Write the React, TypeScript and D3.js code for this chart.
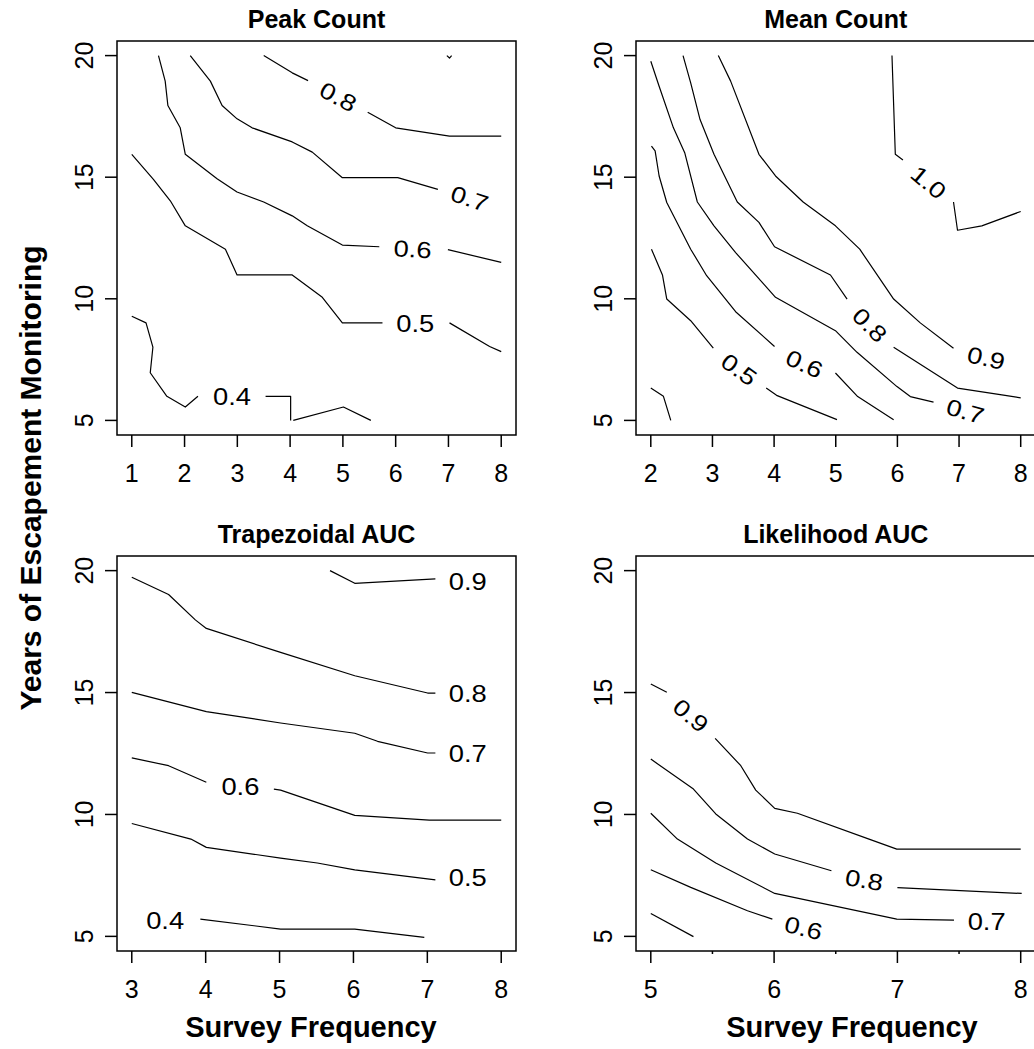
import React from "react";
import * as d3 from "d3";

type Pt = [number, number];
interface ContourLabel { x: number; y: number; angle: number }
interface Contour { level: string; segments: Pt[][]; label?: ContourLabel }

// ---------- data ----------
const yTicks = [5, 10, 15, 20];
const yDomain: [number, number] = [5, 20];

const peakCountXTicks = [1, 2, 3, 4, 5, 6, 7, 8];
const meanCountXTicks = [2, 3, 4, 5, 6, 7, 8];
const trapezoidalXTicks = [3, 4, 5, 6, 7, 8];
const likelihoodXTicks = [5, 6, 7, 8];
const likelihoodXMinorTicks = [5.5, 6.5, 7.5];

const panelTitles = ["Peak Count", "Mean Count", "Trapezoidal AUC", "Likelihood AUC"];
const xAxisTitle = "Survey Frequency";
const yAxisTitle = "Years of Escapement Monitoring";

const peakCountContours: Contour[] = [
  { level: "0.4", segments: [
    [[1.0, 9.28], [1.27, 9.01], [1.40, 8.01], [1.35, 6.96], [1.665, 5.99], [2.014, 5.55], [2.254, 5.99]],
    [[3.535, 5.99], [4.01, 5.99], [4.01, 5.0]],
    [[4.06, 5.0], [5.01, 5.55], [5.53, 5.0]],
  ], label: { x: 2.90, y: 5.96, angle: 0 } },
  { level: "0.5", segments: [
    [[1.0, 15.94], [1.41, 14.91], [1.73, 14.03], [2.014, 13.0], [2.774, 12.04], [2.995, 10.98], [4.04, 10.98], [4.61, 10.06], [4.99, 9.01], [5.75, 9.01]],
    [[7.02, 9.01], [7.78, 8.04], [8.0, 7.83]],
  ], label: { x: 6.37, y: 8.97, angle: 0 } },
  { level: "0.6", segments: [
    [[1.506, 20.0], [1.633, 18.95], [1.684, 17.95], [1.918, 17.03], [2.014, 15.94], [2.616, 14.94], [2.994, 14.39], [3.50, 13.98], [4.04, 13.41], [4.325, 13.0], [4.99, 12.21], [5.69, 12.14]],
    [[6.99, 12.02], [8.0, 11.50]],
  ], label: { x: 6.32, y: 12.04, angle: 3 } },
  { level: "0.7", segments: [
    [[2.108, 20.0], [2.489, 18.95], [2.711, 17.95], [2.995, 17.40], [3.28, 17.03], [4.04, 16.45], [4.42, 16.03], [4.99, 14.98], [6.04, 14.98], [6.80, 14.50]],
  ], label: { x: 7.40, y: 14.12, angle: 18 } },
  { level: "0.8", segments: [
    [[3.50, 20.0], [4.04, 19.29], [4.34, 18.97]],
    [[5.47, 17.67], [6.00, 17.03], [7.02, 16.69], [8.0, 16.69]],
  ], label: { x: 4.909, y: 18.30, angle: 28 } },
  { level: "0.9", segments: [
    [[6.97, 20.0], [7.02, 19.9], [7.06, 20.0]],
  ] },
];

const meanCountContours: Contour[] = [
  { level: "0.4", segments: [
    [[2.0, 6.33], [2.205, 5.99], [2.324, 5.0]],
  ] },
  { level: "0.5", segments: [
    [[2.011, 12.04], [2.189, 10.98], [2.259, 9.99], [2.647, 9.10], [3.014, 7.97]],
    [[3.872, 6.33], [4.04, 6.03], [5.02, 5.03]],
  ], label: { x: 3.43, y: 7.09, angle: 36 } },
  { level: "0.6", segments: [
    [[2.011, 16.28], [2.07, 16.08], [2.135, 15.05], [2.259, 13.96], [2.647, 12.04], [2.906, 10.95], [3.376, 9.47], [4.007, 8.04]],
    [[4.995, 6.95], [5.356, 5.98], [5.939, 5.03]],
  ], label: { x: 4.49, y: 7.32, angle: 25 } },
  { level: "0.7", segments: [
    [[2.0, 19.77], [2.135, 18.74], [2.367, 17.03], [2.55, 16.01], [2.755, 13.98], [3.025, 13.0], [3.376, 11.90], [4.023, 10.06], [4.995, 8.69], [5.345, 7.80], [5.993, 6.39], [6.209, 5.98], [6.586, 5.75]],
  ], label: { x: 7.10, y: 5.37, angle: 16 } },
  { level: "0.8", segments: [
    [[2.523, 20.0], [2.647, 18.88], [2.799, 17.37], [3.025, 15.94], [3.403, 13.98], [3.754, 13.14], [4.007, 12.14], [4.914, 10.98], [5.184, 9.99]],
    [[5.939, 8.01], [6.975, 6.33], [7.747, 6.03], [8.0, 5.93]],
  ], label: { x: 5.55, y: 8.92, angle: 45 } },
  { level: "0.9", segments: [
    [[3.095, 20.0], [3.295, 18.95], [3.754, 15.94], [4.023, 15.05], [4.471, 13.98], [4.995, 13.0], [5.389, 12.04], [5.939, 9.99], [6.371, 9.01], [6.91, 7.97]],
  ], label: { x: 7.44, y: 7.56, angle: 13 } },
  { level: "1.0", segments: [
    [[5.912, 20.0], [5.966, 15.94], [6.09, 15.71]],
    [[6.91, 13.98], [6.975, 12.82], [7.369, 13.0], [8.0, 13.59]],
  ], label: { x: 6.505, y: 14.78, angle: 40 } },
];

const trapezoidalContours: Contour[] = [
  { level: "0.4", segments: [
    [[3.928, 5.71], [5.014, 5.30], [6.018, 5.30], [6.959, 4.96]],
  ], label: { x: 3.452, y: 5.64, angle: 0 } },
  { level: "0.5", segments: [
    [[3.0, 9.63], [3.80, 8.99], [4.009, 8.65], [5.014, 8.21], [5.511, 8.01], [6.018, 7.73], [7.109, 7.32]],
  ], label: { x: 7.547, y: 7.39, angle: 0 } },
  { level: "0.6", segments: [
    [[3.0, 12.32], [3.498, 12.0], [4.009, 11.32]],
    [[4.923, 11.04], [5.014, 11.0], [6.018, 9.96], [7.027, 9.77], [8.0, 9.77]],
  ], label: { x: 4.47, y: 11.11, angle: 0 } },
  { level: "0.7", segments: [
    [[3.0, 15.01], [4.009, 14.22], [5.014, 13.75], [6.018, 13.33], [6.326, 13.0], [7.004, 12.52], [7.109, 12.52]],
  ], label: { x: 7.547, y: 12.48, angle: 0 } },
  { level: "0.8", segments: [
    [[3.0, 19.73], [3.498, 19.02], [3.86, 17.98], [4.009, 17.63], [5.014, 16.65], [6.018, 15.69], [7.004, 14.98], [7.109, 14.98]],
  ], label: { x: 7.547, y: 14.94, angle: 0 } },
  { level: "0.9", segments: [
    [[5.683, 20.0], [6.018, 19.48], [7.109, 19.66]],
  ], label: { x: 7.547, y: 19.55, angle: 0 } },
];

const likelihoodContours: Contour[] = [
  { level: "0.5", segments: [
    [[5.0, 5.94], [5.346, 4.99]],
  ] },
  { level: "0.6", segments: [
    [[5.0, 7.73], [5.324, 7.01], [5.784, 6.05], [5.986, 5.71]],
  ], label: { x: 6.238, y: 5.34, angle: 14 } },
  { level: "0.7", segments: [
    [[5.0, 10.05], [5.216, 8.99], [5.527, 8.01], [6.005, 6.76], [6.995, 5.71], [7.459, 5.67]],
  ], label: { x: 7.724, y: 5.57, angle: 0 } },
  { level: "0.8", segments: [
    [[5.0, 12.27], [5.346, 11.04], [5.527, 10.02], [5.784, 8.99], [6.005, 8.38], [6.465, 7.69]],
    [[7.0, 7.0], [8.008, 6.76]],
  ], label: { x: 6.73, y: 7.31, angle: 10 } },
  { level: "0.9", segments: [
    [[5.0, 15.35], [5.13, 15.01]],
    [[5.522, 13.12], [5.73, 12.0], [5.851, 11.0], [6.005, 10.25], [6.189, 10.05], [6.77, 8.99], [6.995, 8.58], [8.0, 8.58]],
  ], label: { x: 5.324, y: 14.05, angle: 40 } },
];

// ---------- layout ----------
const W = 1034;
const H = 1049;
const FONT = "'Liberation Sans', Arial, Helvetica, sans-serif";

interface PanelSpec {
  title: string;
  xTicks: number[];
  xMinor: number[];
  contours: Contour[];
  left: number; right: number; top: number; bottom: number;
  showXTitle: boolean;
  xTitleX: number;
}

const colL = { left: 117, right: 516 };
const colR = { left: 636, right: 1035.5 };
const rowT = { top: 41, bottom: 435 };
const rowB = { top: 556, bottom: 951 };

const panels: PanelSpec[] = [
  { title: panelTitles[0], xTicks: peakCountXTicks, xMinor: [], contours: peakCountContours, ...colL, ...rowT, showXTitle: false, xTitleX: 311 },
  { title: panelTitles[1], xTicks: meanCountXTicks, xMinor: [], contours: meanCountContours, ...colR, ...rowT, showXTitle: false, xTitleX: 852 },
  { title: panelTitles[2], xTicks: trapezoidalXTicks, xMinor: [], contours: trapezoidalContours, ...colL, ...rowB, showXTitle: true, xTitleX: 311 },
  { title: panelTitles[3], xTicks: likelihoodXTicks, xMinor: likelihoodXMinorTicks, contours: likelihoodContours, ...colR, ...rowB, showXTitle: true, xTitleX: 852 },
];

function pad(ext: [number, number]): [number, number] {
  const r = ext[1] - ext[0];
  return [ext[0] - 0.04 * r, ext[1] + 0.04 * r];
}

function Panel({ p, idx }: { p: PanelSpec; idx: number }) {
  const xExt = d3.extent(p.xTicks) as [number, number];
  const x = d3.scaleLinear().domain(pad(xExt)).range([p.left, p.right]);
  const y = d3.scaleLinear().domain(pad(yDomain)).range([p.bottom, p.top]);
  const line = d3.line<Pt>().x((d) => x(d[0])).y((d) => y(d[1]));
  const clipId = `clip-${idx}`;
  const cx = (p.left + p.right) / 2;
  return (
    <g>
      <defs>
        <clipPath id={clipId}>
          <rect x={p.left} y={p.top} width={p.right - p.left} height={p.bottom - p.top} />
        </clipPath>
      </defs>
      <text x={cx} y={p.top - 13} textAnchor="middle" fontFamily={FONT} fontWeight="bold" fontSize={25}>
        {p.title}
      </text>
      <g clipPath={`url(#${clipId})`}>
        {p.contours.map((c, ci) =>
          c.segments.map((s, si) => (
            <path key={`${ci}-${si}`} d={line(s) || ""} fill="none" stroke="#000" strokeWidth={1.2} strokeLinejoin="round" />
          ))
        )}
        {p.contours.filter((c) => c.label).map((c, ci) => {
          const l = c.label as ContourLabel;
          return (
            <text
              key={`l${ci}`}
              transform={`translate(${x(l.x)},${y(l.y)}) rotate(${l.angle})`}
              textAnchor="middle"
              dominantBaseline="central"
              fontFamily={FONT}
              fontSize={23}
              textLength={38}
              lengthAdjust="spacingAndGlyphs"
              fill="#000"
            >
              {c.level}
            </text>
          );
        })}
      </g>
      <rect x={p.left} y={p.top} width={p.right - p.left} height={p.bottom - p.top} fill="none" stroke="#000" strokeWidth={1.5} />
      {yTicks.map((t) => (
        <g key={`yt${t}`}>
          <line x1={p.left} x2={p.left - 12} y1={y(t)} y2={y(t)} stroke="#000" strokeWidth={1.5} />
          <text
            transform={`translate(${p.left - 24},${y(t)}) rotate(-90)`}
            textAnchor="middle"
            fontFamily={FONT}
            fontSize={25}
          >
            {t}
          </text>
        </g>
      ))}
      {p.xTicks.map((t) => (
        <g key={`xt${t}`}>
          <line x1={x(t)} x2={x(t)} y1={p.bottom} y2={p.bottom + 12} stroke="#000" strokeWidth={1.5} />
          <text x={x(t)} y={p.bottom + 47} textAnchor="middle" fontFamily={FONT} fontSize={25}>
            {t}
          </text>
        </g>
      ))}
      {p.xMinor.map((t) => (
        <line key={`xm${t}`} x1={x(t)} x2={x(t)} y1={p.bottom} y2={p.bottom + 3} stroke="#000" strokeWidth={1.5} />
      ))}
      {p.showXTitle && (
        <text x={p.xTitleX} y={1037} textAnchor="middle" fontFamily={FONT} fontWeight="bold" fontSize={29}>
          {xAxisTitle}
        </text>
      )}
    </g>
  );
}

export default function App() {
  return (
    <svg
      width={W}
      height={H}
      viewBox={`0 0 ${W} ${H}`}
      style={{ position: "absolute", left: 0, top: 0, display: "block", background: "#fff" }}
    >
      <rect x={0} y={0} width={W} height={H} fill="#fff" />
      {panels.map((p, i) => (
        <Panel key={i} p={p} idx={i} />
      ))}
      <text
        transform={`translate(41,478) rotate(-90)`}
        textAnchor="middle"
        fontFamily={FONT}
        fontWeight="bold"
        fontSize={30}
      >
        {yAxisTitle}
      </text>
    </svg>
  );
}
